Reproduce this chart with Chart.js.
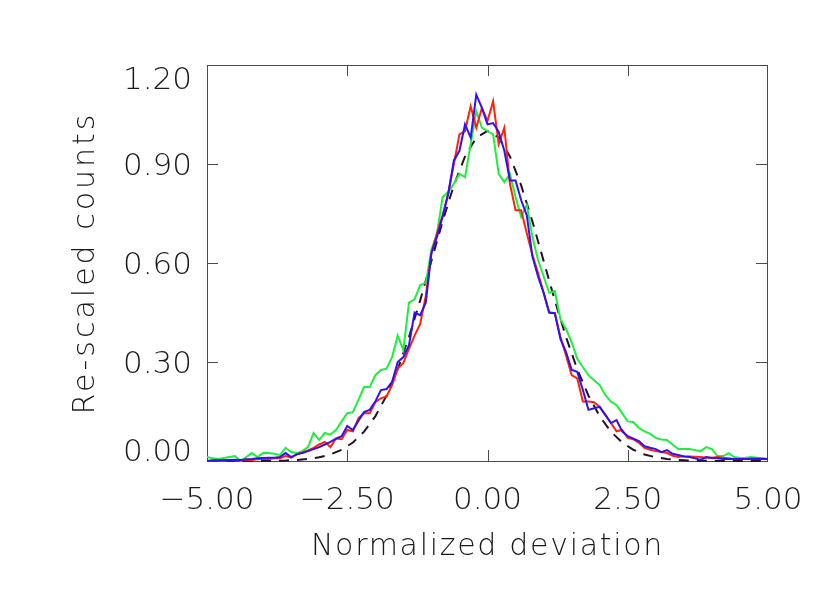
<!DOCTYPE html>
<html>
<head>
<meta charset="utf-8">
<script src="https://cdn.jsdelivr.net/npm/chart.js@4.4.1/dist/chart.umd.min.js"></script>
<style>
  html, body { margin: 0; padding: 0; background: #fff; }
  #wrap { width: 830px; height: 593px; }
</style>
</head>
<body>
<div id="wrap"><canvas id="devChart" width="830" height="593"></canvas></div>
<script>
// bin centres, -5.0 .. 5.0
const xBins = [
  -5.0, -4.9, -4.8, -4.7, -4.6, -4.5, -4.4, -4.3, -4.2, -4.1,
  -4.0, -3.9, -3.8, -3.7, -3.6, -3.5, -3.4, -3.3, -3.2, -3.1,
  -3.0, -2.9, -2.8, -2.7, -2.6, -2.5, -2.4, -2.3, -2.2, -2.1,
  -2.0, -1.9, -1.8, -1.7, -1.6, -1.5, -1.4, -1.3, -1.2, -1.1,
  -1.0, -0.9, -0.8, -0.7, -0.6, -0.5, -0.4, -0.3, -0.2, -0.1,
   0.0,  0.1,  0.2,  0.3,  0.4,  0.5,  0.6,  0.7,  0.8,  0.9,
   1.0,  1.1,  1.2,  1.3,  1.4,  1.5,  1.6,  1.7,  1.8,  1.9,
   2.0,  2.1,  2.2,  2.3,  2.4,  2.5,  2.6,  2.7,  2.8,  2.9,
   3.0,  3.1,  3.2,  3.3,  3.4,  3.5,  3.6,  3.7,  3.8,  3.9,
   4.0,  4.1,  4.2,  4.3,  4.4,  4.5,  4.6,  4.7,  4.8,  4.9,
   5.0
];

const redCounts = [
  0.000, 0.001, 0.002, 0.001, 0.002, 0.003, 0.002, 0.004, 0.003, 0.005,
  0.006, 0.006, 0.008, 0.008, 0.015, 0.010, 0.020, 0.026, 0.032, 0.040,
  0.050, 0.058, 0.042, 0.068, 0.066, 0.094, 0.090, 0.130, 0.145, 0.145,
  0.178, 0.190, 0.196, 0.230, 0.280, 0.297, 0.340, 0.380, 0.415, 0.500,
  0.630, 0.690, 0.745, 0.810, 0.900, 0.990, 1.000, 1.075, 1.010, 1.070,
  1.030, 1.090, 0.960, 1.010, 0.840, 0.760, 0.760, 0.690, 0.625, 0.570,
  0.510, 0.450, 0.448, 0.376, 0.320, 0.260, 0.250, 0.180, 0.180, 0.178,
  0.164, 0.140, 0.115, 0.090, 0.094, 0.070, 0.066, 0.055, 0.040, 0.034,
  0.030, 0.027, 0.024, 0.016, 0.012, 0.014, 0.014, 0.013, 0.012, 0.010,
  0.010, 0.012, 0.010, 0.008, 0.006, 0.006, 0.006, 0.006, 0.008, 0.006,
  0.006
];

const blueCounts = [
  0.000, 0.002, 0.002, 0.003, 0.003, 0.004, 0.003, 0.005, 0.006, 0.008,
  0.009, 0.010, 0.010, 0.012, 0.024, 0.012, 0.020, 0.024, 0.030, 0.036,
  0.042, 0.050, 0.058, 0.068, 0.075, 0.106, 0.094, 0.122, 0.148, 0.155,
  0.180, 0.215, 0.218, 0.240, 0.300, 0.315, 0.350, 0.450, 0.442, 0.480,
  0.630, 0.680, 0.740, 0.810, 0.910, 0.940, 1.020, 0.980, 1.110, 1.070,
  1.020, 1.024, 0.997, 0.940, 0.850, 0.850, 0.790, 0.745, 0.620, 0.560,
  0.510, 0.450, 0.448, 0.370, 0.330, 0.276, 0.270, 0.215, 0.155, 0.160,
  0.164, 0.140, 0.115, 0.124, 0.090, 0.075, 0.068, 0.060, 0.045, 0.040,
  0.036, 0.027, 0.033, 0.022, 0.018, 0.014, 0.012, 0.008, 0.004, 0.012,
  0.009, 0.008, 0.006, 0.006, 0.006, 0.006, 0.006, 0.007, 0.006, 0.006,
  0.006
];

const greenCounts = [
  0.012, 0.008, 0.006, 0.009, 0.012, 0.015, 0.000, 0.012, 0.024, 0.012,
  0.024, 0.024, 0.022, 0.018, 0.040, 0.027, 0.024, 0.030, 0.042, 0.085,
  0.064, 0.085, 0.080, 0.094, 0.120, 0.145, 0.148, 0.185, 0.224, 0.224,
  0.260, 0.276, 0.280, 0.315, 0.380, 0.336, 0.480, 0.490, 0.533, 0.540,
  0.640, 0.690, 0.800, 0.815, 0.840, 0.870, 0.860, 0.960, 1.060, 1.010,
  1.000, 0.990, 0.870, 0.845, 0.870, 0.800, 0.740, 0.776, 0.680, 0.610,
  0.560, 0.510, 0.515, 0.430, 0.400, 0.360, 0.310, 0.285, 0.260, 0.245,
  0.230, 0.200, 0.180, 0.170, 0.145, 0.120, 0.118, 0.100, 0.090, 0.082,
  0.070, 0.065, 0.064, 0.050, 0.036, 0.036, 0.036, 0.033, 0.030, 0.042,
  0.036, 0.015, 0.015, 0.024, 0.012, 0.009, 0.010, 0.012, 0.010, 0.009,
  0.006
];

// reference normal curve (dashed)
const gaussX = [
  -5.0, -4.8, -4.6, -4.4, -4.2, -4.0, -3.8, -3.6, -3.4, -3.2,
  -3.0, -2.8, -2.6, -2.4, -2.2, -2.0, -1.8, -1.6, -1.4, -1.2,
  -1.0, -0.8, -0.6, -0.4, -0.2,  0.0,  0.2,  0.4,  0.6,  0.8,
   1.0,  1.2,  1.4,  1.6,  1.8,  2.0,  2.2,  2.4,  2.6,  2.8,
   3.0,  3.2,  3.4,  3.6,  3.8,  4.0,  4.2,  4.4,  4.6,  4.8,
   5.0
];
const gaussY = [
  0.0000, 0.0000, 0.0000, 0.0001, 0.0001, 0.0003, 0.0007, 0.0015, 0.0031, 0.0060,
  0.0111, 0.0198, 0.0340, 0.0561, 0.0889, 0.1353, 0.1979, 0.2780, 0.3753, 0.4868,
  0.6065, 0.7261, 0.8353, 0.9231, 0.9802, 1.0000, 0.9802, 0.9231, 0.8353, 0.7261,
  0.6065, 0.4868, 0.3753, 0.2780, 0.1979, 0.1353, 0.0889, 0.0561, 0.0340, 0.0198,
  0.0111, 0.0060, 0.0031, 0.0015, 0.0007, 0.0003, 0.0001, 0.0001, 0.0000, 0.0000,
  0.0000
];

const xTitle = "Normalized deviation";
const yTitle = "Re-scaled counts";

const pts = (xs, ys) => xs.map((x, i) => ({ x: x, y: ys[i] }));

const TXT = '#1a1a1a';
const FAM = "'DejaVu Sans', 'Liberation Sans', sans-serif";
const fmt = v => (v < 0 ? '\u2212' : '') + Math.abs(v).toFixed(2);

// IDL-style frame: box, inward ticks, labels kept inside the box ends
const idlFrame = {
  id: 'idlFrame',
  beforeDatasetsDraw(chart) {
    const { ctx, chartArea: a, scales: { x, y } } = chart;
    ctx.save();
    ctx.strokeStyle = '#4a4a4a';
    ctx.lineWidth = 1;
    ctx.strokeRect(a.left + 0.5, a.top + 0.5, a.right - a.left - 1, a.bottom - a.top);
    ctx.beginPath();
    x.ticks.forEach(t => {
      if (t.value <= x.min || t.value >= x.max) return;
      const px = Math.round(x.getPixelForValue(t.value)) + 0.5;
      ctx.moveTo(px, a.bottom); ctx.lineTo(px, a.bottom - 11);
      ctx.moveTo(px, a.top); ctx.lineTo(px, a.top + 11);
    });
    y.ticks.forEach(t => {
      if (t.value <= y.min || t.value >= y.max - 1e-9) return;
      const py = Math.round(y.getPixelForValue(t.value)) + 0.5;
      ctx.moveTo(a.left, py); ctx.lineTo(a.left + 11, py);
      ctx.moveTo(a.right - 1, py); ctx.lineTo(a.right - 12, py);
    });
    ctx.stroke();
    ctx.restore();
  },
  afterDraw(chart) {
    const { ctx, chartArea: a, scales: { x, y } } = chart;
    ctx.save();
    ctx.fillStyle = TXT;
    ctx.font = '200 31px ' + FAM;
    ctx.textBaseline = 'alphabetic';

    ctx.textAlign = 'right';
    y.ticks.forEach(t => {
      const py = y.getPixelForValue(t.value);
      const cy = Math.min(Math.max(py, a.top + 13), a.bottom - 11);
      ctx.fillText(fmt(t.value), a.left - 15, cy + 11);
    });

    ctx.textAlign = 'center';
    x.ticks.forEach(t => {
      ctx.fillText(fmt(t.value), x.getPixelForValue(t.value), a.bottom + 48);
    });

    ctx.font = '200 30px ' + FAM;
    ctx.letterSpacing = '1.7px';
    ctx.fillText(xTitle, (a.left + a.right) / 2, a.bottom + 94);

    ctx.letterSpacing = '3px';
    ctx.translate(94, (a.top + a.bottom) / 2);
    ctx.rotate(-Math.PI / 2);
    ctx.fillText(yTitle, 0, 0);
    ctx.restore();
  }
};

const ctx = document.getElementById('devChart').getContext('2d');
const devChart = new Chart(ctx, {
  type: 'line',
  data: {
    datasets: [
      { data: pts(gaussX, gaussY), borderColor: '#241028', borderWidth: 2, borderDash: [10, 8], order: 4 },
      { data: pts(xBins, greenCounts), borderColor: '#1cf03c', borderWidth: 2, order: 3 },
      { data: pts(xBins, redCounts), borderColor: '#ff2408', borderWidth: 2, order: 2 },
      { data: pts(xBins, blueCounts), borderColor: '#3210f5', borderWidth: 2, order: 1 }
    ]
  },
  options: {
    responsive: false,
    animation: false,
    devicePixelRatio: 1,
    layout: { padding: { left: 0, right: 62, top: 65, bottom: 0 } },
    elements: { point: { radius: 0 }, line: { tension: 0, fill: false } },
    datasets: { line: { clip: false } },
    plugins: { legend: { display: false }, tooltip: { enabled: false } },
    scales: {
      x: {
        type: 'linear', min: -5, max: 5,
        ticks: { stepSize: 2.5, display: false },
        grid: { display: false }, border: { display: false },
        afterFit: s => { s.height = 132; }
      },
      y: {
        type: 'linear', min: 0, max: 1.2,
        ticks: { stepSize: 0.3, display: false },
        grid: { display: false }, border: { display: false },
        afterFit: s => { s.width = 207; }
      }
    }
  },
  plugins: [idlFrame]
});
</script>
</body>
</html>
